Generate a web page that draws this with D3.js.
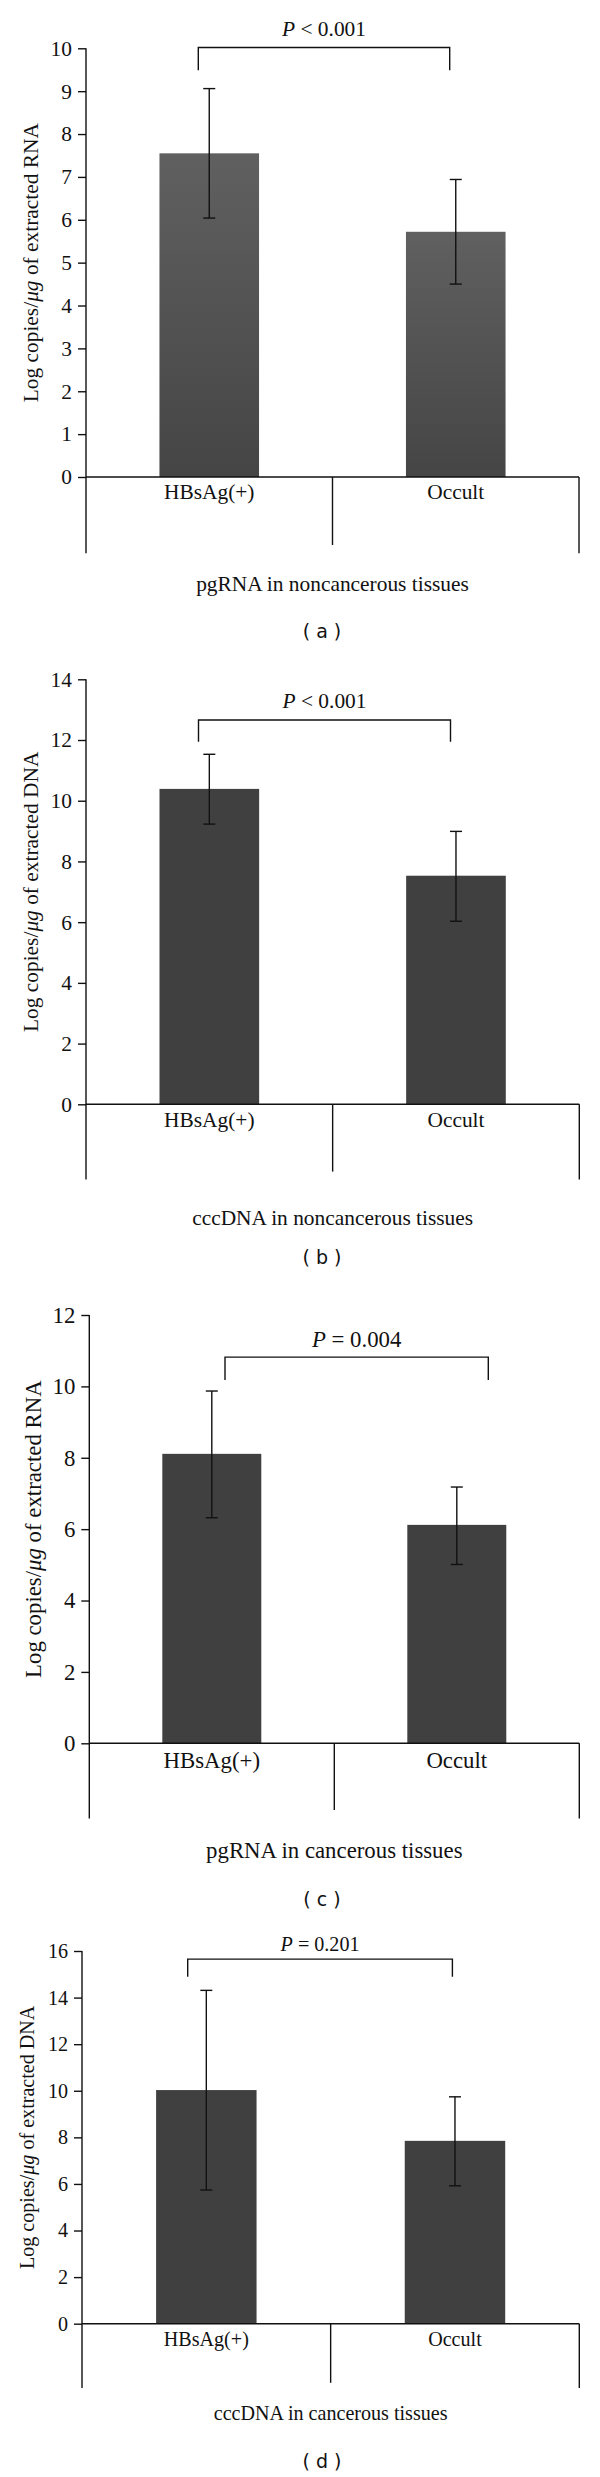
<!DOCTYPE html>
<html>
<head>
<meta charset="utf-8">
<script src="https://cdn.jsdelivr.net/npm/d3@7/dist/d3.min.js"></script>
<style>
  html, body { margin: 0; padding: 0; background: #fff; }
  svg { display: block; }
  text { font-family: "Liberation Serif", "Times New Roman", serif; fill: #111; }
  .cap { font-family: "DejaVu Sans", sans-serif; }
</style>
</head>
<body>
<div id="chart"></div>
<script>
// ---------- data ----------
const categories = ["HBsAg(+)", "Occult"];
const panelIds = ["( a )", "( b )", "( c )", "( d )"];
const xTitles = ["pgRNA in noncancerous tissues", "cccDNA in noncancerous tissues",
                 "pgRNA in cancerous tissues", "cccDNA in cancerous tissues"];
const yTitleTargets = ["RNA", "DNA", "RNA", "DNA"];
const yMaxes = [10, 14, 12, 16];
const tickSteps = [1, 2, 2, 2];

const meansA = [7.55, 5.72];
const lowA   = [6.04, 4.50];
const highA  = [9.06, 6.94];

const meansB = [10.39, 7.53];
const lowB   = [9.23, 6.03];
const highB  = [11.53, 8.99];

const meansC = [8.11, 6.12];
const lowC   = [6.32, 5.01];
const highC  = [9.87, 7.18];

const meansD = [10.03, 7.85];
const lowD   = [5.74, 5.92];
const highD  = [14.31, 9.74];

const pOps    = ["<", "<", "=", "="];
const pValues = ["0.001", "0.001", "0.004", "0.201"];
const bracketTops = [10.02, 12.66, 10.82, 15.65];
const bracketLegs = [9.49, 11.94, 10.18, 14.89];

const means = [meansA, meansB, meansC, meansD];
const lows  = [lowA, lowB, lowC, lowD];
const highs = [highA, highB, highC, highD];

// ---------- layout ----------
const layouts = [
  {axisX: 86,   right: 579,   top: 48.3, zero: 477,    divBottom: 553.3, midBottom: 545,    labelDy: 21.5, titleY: 591, capY: 631.7, font: 21.4, brX: [198.3, 449.7], pGap: 11.5, grad: true},
  {axisX: 86,   right: 579.3, top: 679.3, zero: 1104.3, divBottom: 1179.5, midBottom: 1171.6, labelDy: 22.5, titleY: 1225, capY: 1257.6, font: 21.4, brX: [198.5, 450.5], pGap: 12},
  {axisX: 89.3, right: 579.3, top: 1315, zero: 1743.3, divBottom: 1818.6, midBottom: 1809.9, labelDy: 25, titleY: 1858, capY: 1899,   font: 22.8, brX: [225, 488.3], pGap: 10},
  {axisX: 82,   right: 579.3, top: 1951, zero: 2323.7, divBottom: 2388,   midBottom: 2382.8, labelDy: 22, titleY: 2420, capY: 2461.7, font: 20.1, brX: [187.7, 452.4], pGap: 8}
];

const W = 600, H = 2477;
const svg = d3.select("#chart").append("svg").attr("width", W).attr("height", H);
svg.append("rect").attr("width", W).attr("height", H).attr("fill", "#fff");

const defs = svg.append("defs");
const lg = defs.append("linearGradient").attr("id", "barGrad")
  .attr("x1", 0).attr("y1", 0).attr("x2", 0).attr("y2", 1);
lg.append("stop").attr("offset", "0%").attr("stop-color", "#606060");
lg.append("stop").attr("offset", "100%").attr("stop-color", "#454545");

const LW = 1.4;

layouts.forEach((L, i) => {
  const g = svg.append("g");
  const y = d3.scaleLinear().domain([0, yMaxes[i]]).range([L.zero, L.top]);
  const x = d3.scaleBand().domain(categories).range([L.axisX, L.right])
    .paddingInner(0.596).paddingOuter(0.298);

  // bars
  g.selectAll("rect.bar").data(categories).join("rect")
    .attr("class", "bar")
    .attr("x", d => x(d))
    .attr("width", x.bandwidth())
    .attr("y", (d, j) => y(means[i][j]))
    .attr("height", (d, j) => y(0) - y(means[i][j]))
    .attr("fill", L.grad ? "url(#barGrad)" : "#404040");

  // y axis
  const ticks = d3.range(0, yMaxes[i] + 0.001, tickSteps[i]);
  const yAxis = d3.axisLeft(y).tickValues(ticks).tickSize(8).tickPadding(6).tickFormat(d3.format("d"));
  const ag = g.append("g").attr("transform", `translate(${L.axisX},0)`).call(yAxis);
  ag.select(".domain").remove();
  ag.selectAll(".tick line").attr("stroke", "#111").attr("stroke-width", LW);
  ag.selectAll(".tick text").attr("font-size", L.font).attr("fill", "#111");

  // y axis line (extending below zero to divider bottom)
  g.append("line").attr("x1", L.axisX).attr("x2", L.axisX)
    .attr("y1", L.top).attr("y2", L.divBottom)
    .attr("stroke", "#111").attr("stroke-width", LW);
  // x axis line
  g.append("line").attr("x1", L.axisX).attr("x2", L.right)
    .attr("y1", y(0)).attr("y2", y(0))
    .attr("stroke", "#111").attr("stroke-width", LW);
  // middle divider
  const mid = L.axisX + x.step();
  g.append("line").attr("x1", mid).attr("x2", mid)
    .attr("y1", y(0)).attr("y2", L.midBottom)
    .attr("stroke", "#111").attr("stroke-width", LW);
  // right divider
  g.append("line").attr("x1", L.right).attr("x2", L.right)
    .attr("y1", y(0)).attr("y2", L.divBottom)
    .attr("stroke", "#111").attr("stroke-width", LW);

  // category labels
  g.selectAll("text.cat").data(categories).join("text")
    .attr("class", "cat")
    .attr("x", d => x(d) + x.bandwidth() / 2)
    .attr("y", y(0) + L.labelDy)
    .attr("text-anchor", "middle")
    .attr("font-size", L.font)
    .text(d => d);

  // error bars
  const capW = 6;
  categories.forEach((c, j) => {
    const cx = x(c) + x.bandwidth() / 2;
    const eg = g.append("g").attr("stroke", "#111").attr("stroke-width", LW);
    eg.append("line").attr("x1", cx).attr("x2", cx).attr("y1", y(lows[i][j])).attr("y2", y(highs[i][j]));
    eg.append("line").attr("x1", cx - capW).attr("x2", cx + capW).attr("y1", y(lows[i][j])).attr("y2", y(lows[i][j]));
    eg.append("line").attr("x1", cx - capW).attr("x2", cx + capW).attr("y1", y(highs[i][j])).attr("y2", y(highs[i][j]));
  });

  // significance bracket
  const bt = y(bracketTops[i]), bl = y(bracketLegs[i]);
  g.append("path")
    .attr("d", `M${L.brX[0]},${bl}V${bt}H${L.brX[1]}V${bl}`)
    .attr("fill", "none").attr("stroke", "#111").attr("stroke-width", LW);
  const pt = g.append("text")
    .attr("x", (L.brX[0] + L.brX[1]) / 2)
    .attr("y", bt - L.pGap)
    .attr("text-anchor", "middle")
    .attr("font-size", L.font);
  pt.append("tspan").attr("font-style", "italic").text("P");
  pt.append("tspan").text(" " + pOps[i] + " " + pValues[i]);

  // y title
  const yt = g.append("text")
    .attr("transform", `translate(${L.axisX - 48.5},${(L.top + L.zero) / 2}) rotate(-90)`)
    .attr("text-anchor", "middle")
    .attr("font-size", L.font);
  yt.append("tspan").text("Log copies/");
  yt.append("tspan").attr("font-style", "italic").text("μg");
  yt.append("tspan").text(" of extracted " + yTitleTargets[i]);

  // x title
  g.append("text")
    .attr("x", mid)
    .attr("y", L.titleY)
    .attr("text-anchor", "middle")
    .attr("font-size", L.font)
    .text(xTitles[i]);

  // panel caption
  g.append("text")
    .attr("class", "cap")
    .attr("x", 322)
    .attr("y", L.capY)
    .attr("dy", "0.35em")
    .attr("text-anchor", "middle")
    .attr("font-size", 19)
    .text(panelIds[i]);
});
</script>
</body>
</html>
